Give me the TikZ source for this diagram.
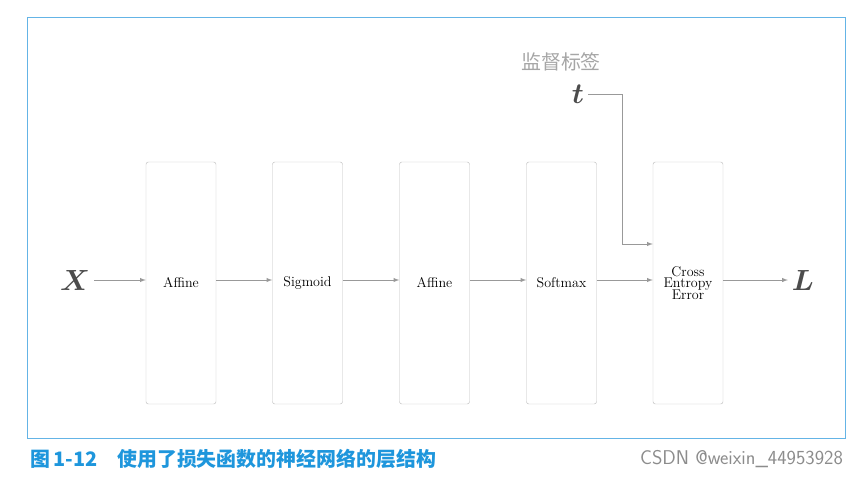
\documentclass[tikz,border=0pt]{standalone}
\usepackage{amsmath,bm}
\usepackage{fontspec}
\newfontfamily\cjk{Noto Sans CJK SC}
\usetikzlibrary{positioning}
\definecolor{capblue}{RGB}{30,150,220}
\definecolor{framblue}{RGB}{100,180,230}

\begin{document}
\begin{tikzpicture}[%
      x=0.03cm, y=-0.03cm,
      layer/.style={draw=black!25, rounded corners=2pt, minimum width=2.1cm,
        minimum height=7.26cm, font=\large, align=center, inner sep=1pt},
      flow/.style={draw=black!40, line width=0.7pt, ->, >=latex},
      ]
      \useasboundingbox (0,0) rectangle (862,477);
      \draw [color=framblue] (27,17) rectangle (845,438);

      % layers
      \node [layer] (af1) at (181,283) {Affine};
      \node [layer] (sig) at (307.5,283) {Sigmoid};
      \node [layer] (af2) at (434.5,283) {Affine};
      \node [layer] (soft) at (561.5,283) {Softmax};
      \node [layer] (cee) at (688,283) {Cross\\[-4pt]Entropy\\[-4pt]Error};

      % input / output
      \node [text=black!70, font=\fontsize{30}{32}\selectfont] (x) at (75,280) {$\bm{X}$};
      \node [text=black!70, font=\fontsize{30}{32}\selectfont] (l) at (803,280) {$\bm{L}$};
      \node [text=black!70, font=\fontsize{30}{32}\selectfont] (t) at (578,94) {$\bm{t}$};
      \node [text=black!35, font=\cjk\fontsize{17}{19}\selectfont] (lbl) at (561,62) {监督标签};
      \coordinate (tin) at (cee.west |- 0,244);

      \draw [flow] (x) -- (af1.west |- x);
      \draw [flow] (af1.east |- x) -- (sig.west |- x);
      \draw [flow] (sig.east |- x) -- (af2.west |- x);
      \draw [flow] (af2.east |- x) -- (soft.west |- x);
      \draw [flow] (soft.east |- x) -- (cee.west |- x);
      \draw [flow] (cee.east |- x) -- (l);
      \draw [flow] (t.east) -- (622,94) -- (622,244) -- (tin);

      % caption
      \node [anchor=west, text=capblue, font=\cjk\bfseries\fontsize{17}{19}\selectfont] (cap) at (26,459)
        {图\,1-12\quad 使用了损失函数的神经网络的层结构};
      \node [anchor=east, text=black!45, font=\sffamily\fontsize{17}{19}\selectfont] (src) at (847,459)
        {CSDN @weixin\_44953928};
\end{tikzpicture}
\end{document}
